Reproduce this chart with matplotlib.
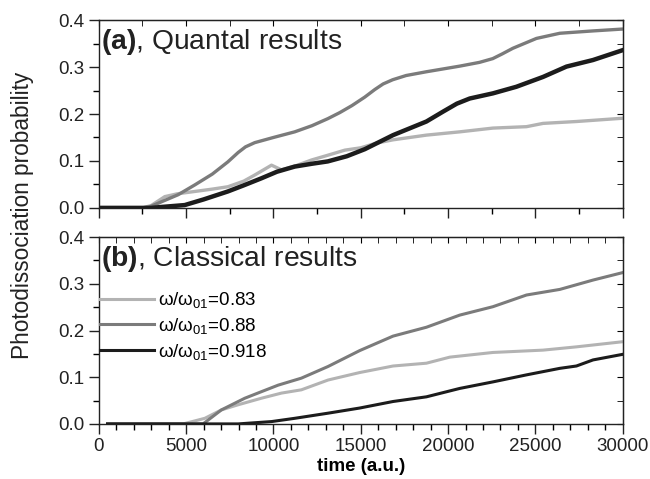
import matplotlib.pyplot as plt
from matplotlib.ticker import MultipleLocator

plt.rcParams['font.family'] = ['Liberation Sans', 'DejaVu Sans']
plt.rcParams['mathtext.fontset'] = 'custom'
plt.rcParams['mathtext.rm'] = 'Liberation Sans'
plt.rcParams['mathtext.bf'] = 'Liberation Sans:bold'
plt.rcParams['mathtext.default'] = 'regular'

# (a) quantal results
q083_t = [0, 2500, 3000, 3780, 4500, 5500, 6500, 7390, 8300, 8930, 9890, 10460,
          11300, 12180, 13100, 14090, 15000, 15900, 16850, 18760, 20670, 22570,
          24490, 25440, 27350, 30000]
q083_p = [0, 0, 0.005, 0.024, 0.030, 0.035, 0.040, 0.045, 0.057, 0.070, 0.091, 0.081,
          0.090, 0.102, 0.112, 0.123, 0.128, 0.138, 0.145, 0.155, 0.162, 0.170,
          0.173, 0.180, 0.184, 0.191]

q088_t = [0, 2500, 2900, 3590, 4540, 5500, 6500, 7390, 7980, 8400, 8930, 10000,
          11220, 12200, 13110, 13800, 14500, 15230, 15800, 16280, 16830, 17600,
          18760, 20670, 21800, 22560, 23100, 23710, 25060, 26400, 28300, 30000]
q088_p = [0, 0, 0.002, 0.013, 0.028, 0.049, 0.072, 0.098, 0.118, 0.130, 0.139, 0.150,
          0.162, 0.175, 0.190, 0.203, 0.218, 0.236, 0.252, 0.264, 0.273, 0.282,
          0.290, 0.302, 0.310, 0.318, 0.328, 0.340, 0.361, 0.372, 0.377, 0.381]

q0918_t = [0, 3000, 3600, 4920, 6000, 7390, 8300, 9310, 10200, 11220, 12200, 13110,
           14200, 15230, 16850, 18760, 19710, 20500, 21240, 22570, 23910, 25440,
           26780, 28300, 30000]
q0918_p = [0, 0, 0.002, 0.006, 0.018, 0.035, 0.048, 0.063, 0.077, 0.088, 0.094, 0.099,
           0.110, 0.125, 0.155, 0.184, 0.205, 0.222, 0.233, 0.244, 0.258, 0.279,
           0.301, 0.315, 0.336]

# (b) classical results
c083_t = [500, 4830, 6070, 7020, 7980, 9310, 10460, 11600, 13130, 14940, 16850,
          18760, 20100, 22570, 25440, 27350, 30000]
c083_p = [0, 0, 0.012, 0.030, 0.041, 0.055, 0.066, 0.073, 0.094, 0.110, 0.124,
          0.130, 0.143, 0.153, 0.158, 0.165, 0.176]

c088_t = [500, 5970, 7020, 8360, 9310, 10270, 11600, 13130, 14940, 16850, 18760,
          20670, 22570, 24490, 26400, 28300, 30000]
c088_p = [0, 0, 0.030, 0.055, 0.069, 0.083, 0.098, 0.123, 0.157, 0.188, 0.207,
          0.233, 0.251, 0.276, 0.288, 0.308, 0.324]

c0918_t = [500, 7980, 9890, 11220, 13130, 14940, 16850, 18760, 20670, 22570,
           24490, 26400, 27350, 28300, 30000]
c0918_p = [0, 0, 0.005, 0.012, 0.023, 0.034, 0.048, 0.058, 0.076, 0.090,
           0.105, 0.119, 0.124, 0.137, 0.149]

labels = ['ω/ω$_{01}$=0.83', 'ω/ω$_{01}$=0.88', 'ω/ω$_{01}$=0.918']
colors = ['#b3b3b3', '#7b7b7b', '#1c1c1c']

fig = plt.figure(figsize=(6.5, 4.79), dpi=100)
ax1 = fig.add_axes([0.152, 0.566, 0.806, 0.392])
ax2 = fig.add_axes([0.152, 0.115, 0.806, 0.390])

ax1.plot(q083_t, q083_p, color=colors[0], lw=2.4)
ax1.plot(q088_t, q088_p, color=colors[1], lw=2.4)
ax1.plot(q0918_t, q0918_p, color=colors[2], lw=3.2)

for t, p, c, lab in zip([c083_t, c088_t, c0918_t], [c083_p, c088_p, c0918_p],
                        colors, labels):
    ax2.plot(t, p, color=c, lw=2.2, label=lab)


def style(ax, xminor, show_xlabels):
    ax.set_xlim(0, 30000)
    ax.set_ylim(0, 0.4)
    ax.xaxis.set_major_locator(MultipleLocator(5000))
    ax.xaxis.set_minor_locator(MultipleLocator(xminor))
    ax.yaxis.set_major_locator(MultipleLocator(0.1))
    ax.yaxis.set_minor_locator(MultipleLocator(0.05))
    ax.yaxis.set_major_formatter(lambda v, pos: f'{v:.1f}')
    ax.tick_params(which='major', direction='out', length=7, width=1,
                   labelsize=13.5, colors='#222222')
    ax.tick_params(which='minor', direction='out', length=4, width=1)
    ax.tick_params(axis='x', labelbottom=show_xlabels)
    for s in ax.spines.values():
        s.set_linewidth(1)
        s.set_color('#222222')
    # mirrored ticks on top and right, pointing inwards
    top = ax.secondary_xaxis('top')
    top.xaxis.set_major_locator(MultipleLocator(5000))
    top.xaxis.set_minor_locator(MultipleLocator(xminor))
    top.tick_params(which='both', direction='in', length=4, labeltop=False)
    right = ax.secondary_yaxis('right')
    right.yaxis.set_major_locator(MultipleLocator(0.1))
    right.yaxis.set_minor_locator(MultipleLocator(0.05))
    right.tick_params(which='both', direction='in', length=4, labelright=False)


style(ax1, 2500, False)
style(ax2, 1000, True)

ax1.text(0.004, 0.965, r'$\mathbf{(a)}$, Quantal results', transform=ax1.transAxes,
         fontsize=20.3, va='top', ha='left', color='#222222')
ax2.text(0.004, 0.965, r'$\mathbf{(b)}$, Classical results', transform=ax2.transAxes,
         fontsize=20.3, va='top', ha='left', color='#222222')

ax2.legend(loc='upper left', bbox_to_anchor=(-0.012, 0.755), frameon=False,
           fontsize=13.5, handlelength=2.9, handletextpad=0.2, labelspacing=0.3,
           borderaxespad=0)

ax2.set_xlabel('time (a.u.)', fontsize=13.5, fontweight='bold', labelpad=2)
fig.text(0.034, 0.551, 'Photodissociation probability', rotation=90,
         fontsize=16.3, va='center', ha='center', color='#222222')

fig.savefig('out.png', dpi=100)
